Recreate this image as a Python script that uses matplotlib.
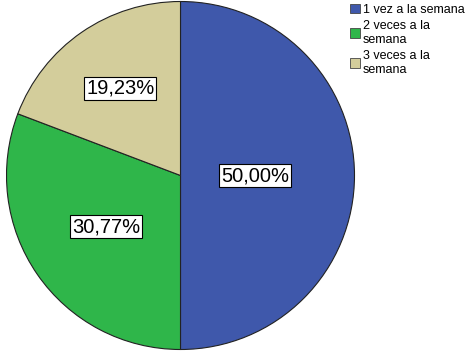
import matplotlib
matplotlib.use("Agg")
import matplotlib.pyplot as plt
import numpy as np

categories = ["1 vez a la semana", "2 veces a la\nsemana", "3 veces a la\nsemana"]
values = [50.00, 30.77, 19.23]
colors = ["#3F58AB", "#2FB64A", "#D3CD9B"]
label_dist = [0.43, 0.52, 0.61]

plt.rcParams['font.family'] = ['Liberation Sans', 'DejaVu Sans']
W, H = 468, 354
fig = plt.figure(figsize=(W/100, H/100), dpi=100)
cx, cy, r = 180.5, 175.5, 174
ax = fig.add_axes([(cx - r)/W, (H - cy - r)/H, 2*r/W, 2*r/H])
wedges, _ = ax.pie(values, colors=colors, startangle=90, counterclock=False,
                   wedgeprops=dict(edgecolor="#222222", linewidth=0.8))
ax.set_xlim(-1, 1); ax.set_ylim(-1, 1); ax.set_aspect('equal')
ax.axis('off')

for w, v, d in zip(wedges, values, label_dist):
    ang = np.deg2rad((w.theta1 + w.theta2) / 2)
    ax.text(d*np.cos(ang), d*np.sin(ang), f"{v:.2f}%".replace('.', ','),
            ha='center', va='center', fontsize=14.5,
            bbox=dict(facecolor='white', edgecolor='black', linewidth=0.8, pad=1.4))

leg = fig.legend(wedges, categories, loc='upper left', bbox_to_anchor=(347/W, 1 - 1/H),
                 frameon=False, fontsize=9, handlelength=0.85, handleheight=0.85,
                 handletextpad=0.2, labelspacing=0.35, borderaxespad=0, borderpad=0.2)
for p in leg.get_patches():
    p.set_edgecolor('#444444'); p.set_linewidth(0.6)
fig.savefig("out.png", dpi=100)
